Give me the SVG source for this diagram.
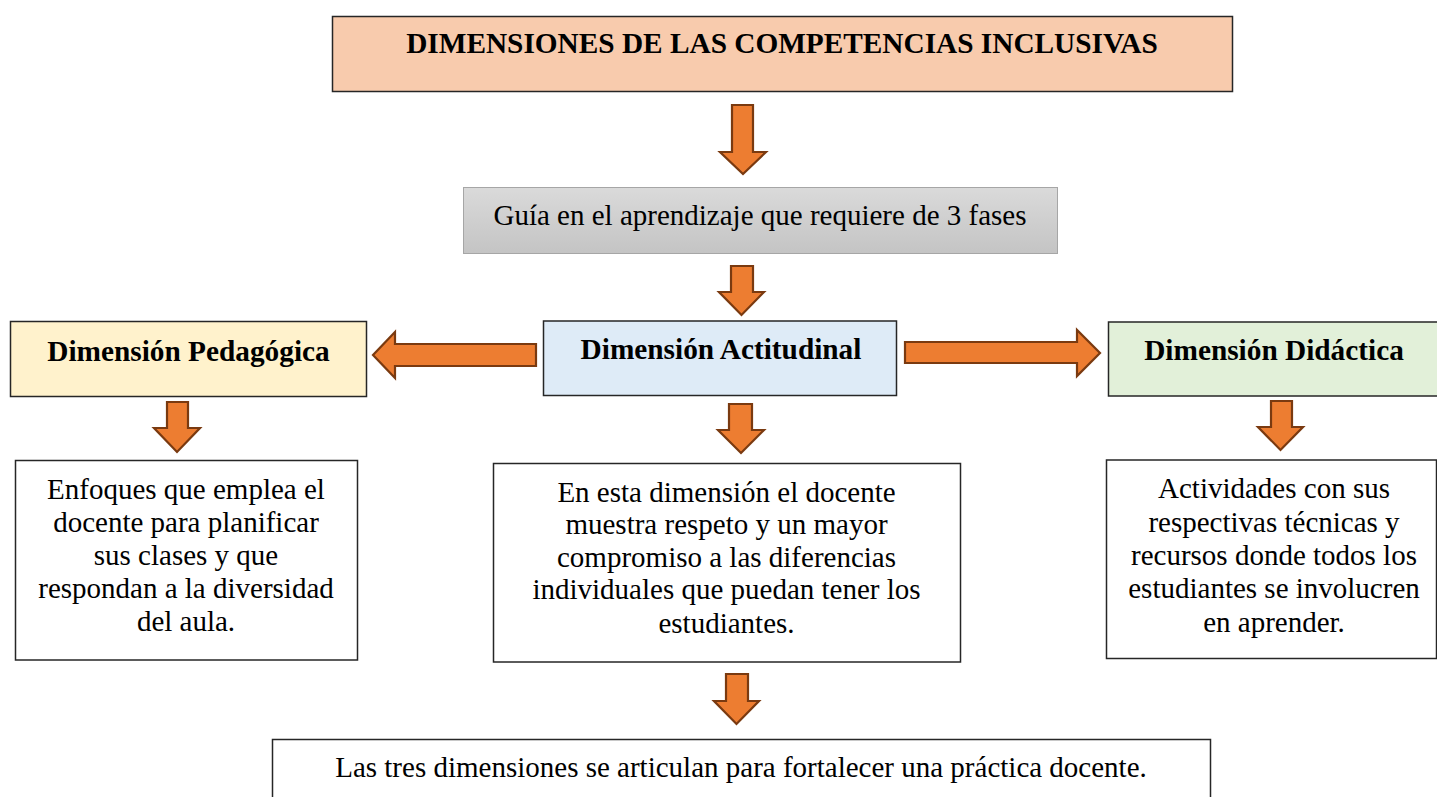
<svg xmlns="http://www.w3.org/2000/svg" width="1437" height="797" viewBox="0 0 1437 797">
<defs>
<linearGradient id="gray" x1="0" y1="0" x2="0" y2="1">
<stop offset="0" stop-color="#DADADA"/>
<stop offset="1" stop-color="#C4C4C4"/>
</linearGradient>
</defs>
<style>
.box{stroke:#262626;stroke-width:1.5}
.arr{fill:#ED7D31;stroke:#7A3A10;stroke-width:2.2;stroke-linejoin:miter}
text{font-family:"Liberation Serif","Times New Roman",serif;fill:#000;text-anchor:middle}
.b{font-weight:bold;font-size:29.3px}
.r{font-size:29px}
</style>
<rect width="1437" height="797" fill="#fff"/>
<g id="title">
<rect class="box" x="332.5" y="16.5" width="900" height="75" fill="#F8CBAD"/>
<text class="b" x="782" y="53">DIMENSIONES DE LAS COMPETENCIAS INCLUSIVAS</text>
</g>
<g id="guia">
<rect x="463.5" y="187.5" width="594" height="66" fill="url(#gray)" stroke="#A6A6A6" stroke-width="1"/>
<text class="r" x="760" y="225">Guía en el aprendizaje que requiere de 3 fases</text>
</g>
<g id="pedagogica">
<rect class="box" x="10.5" y="321.5" width="356" height="75" fill="#FFF2CC"/>
<text class="b" x="188.5" y="361">Dimensión Pedagógica</text>
</g>
<g id="actitudinal">
<rect class="box" x="543.5" y="321" width="353" height="74.5" fill="#DEEBF7"/>
<text class="b" x="721" y="359">Dimensión Actitudinal</text>
</g>
<g id="didactica">
<rect class="box" x="1108.5" y="322" width="340" height="74" fill="#E2F0D9"/>
<text class="b" x="1274" y="360">Dimensión Didáctica</text>
</g>
<g id="enfoques">
<rect class="box" x="15.5" y="460.5" width="342" height="199.5" fill="#fff"/>
<text class="r" x="186"><tspan x="186" y="499">Enfoques que emplea el</tspan><tspan x="186" y="531.5">docente para planificar</tspan><tspan x="186" y="564.5">sus clases y que</tspan><tspan x="186" y="597.5">respondan a la diversidad</tspan><tspan x="186" y="631">del aula.</tspan></text>
</g>
<g id="actitudinal-desc">
<rect class="box" x="493.5" y="463.5" width="467" height="198.5" fill="#fff"/>
<text class="r" x="726.5"><tspan x="726.5" y="501.5">En esta dimensión el docente</tspan><tspan x="726.5" y="534">muestra respeto y un mayor</tspan><tspan x="726.5" y="566.5">compromiso a las diferencias</tspan><tspan x="726.5" y="599">individuales que puedan tener los</tspan><tspan x="726.5" y="632.5">estudiantes.</tspan></text>
</g>
<g id="actividades">
<rect class="box" x="1106.5" y="460" width="330" height="198.5" fill="#fff"/>
<text class="r" x="1274"><tspan x="1274" y="498">Actividades con sus</tspan><tspan x="1274" y="531.5">respectivas técnicas y</tspan><tspan x="1274" y="565">recursos donde todos los</tspan><tspan x="1274" y="598">estudiantes se involucren</tspan><tspan x="1274" y="632">en aprender.</tspan></text>
</g>
<g id="conclusion">
<rect class="box" x="272.5" y="739.5" width="938" height="70" fill="#fff"/>
<text class="r" x="741" y="777">Las tres dimensiones se articulan para fortalecer una práctica docente.</text>
</g>
<g id="connectors">
<path class="arr" d="M732,105 H753 V152 H766 L743,174 L720,152 H732 Z"/>
<path class="arr" d="M731,266 H753 V292 H764 L741.5,315 L719,292 H731 Z"/>
<path class="arr" d="M536,344 V366 H395 V378 L373,355 L395,332 V344 Z"/>
<path class="arr" d="M905,342 H1077 V330 L1100,353 L1077,376 V363 H905 Z"/>
<path class="arr" d="M167,402 H188 V428 H200 L177,452 L154,428 H167 Z"/>
<path class="arr" d="M729,404 H752 V430 H764 L741,453 L718,430 H729 Z"/>
<path class="arr" d="M1271,401 H1292 V427 H1303 L1280.5,450 L1258,427 H1271 Z"/>
<path class="arr" d="M726,674 H748 V701 H759 L736.5,724 L714,701 H726 Z"/>
</g>
</svg>
